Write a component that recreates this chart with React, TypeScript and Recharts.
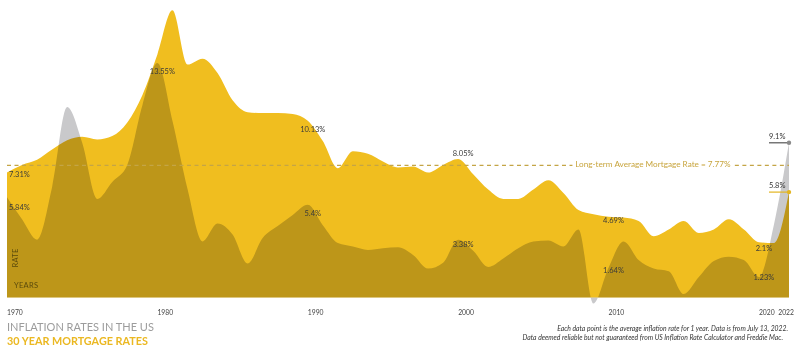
import React from "react";
import {
  ComposedChart,
  Area,
  XAxis,
  YAxis,
  ReferenceLine,
  ReferenceDot,
} from "recharts";

// yearly values
const years = [
  1970, 1971, 1972, 1973, 1974, 1975, 1976, 1977, 1978, 1979,
  1980, 1981, 1982, 1983, 1984, 1985, 1986, 1987, 1988, 1989,
  1990, 1991, 1992, 1993, 1994, 1995, 1996, 1997, 1998, 1999,
  2000, 2001, 2002, 2003, 2004, 2005, 2006, 2007, 2008, 2009,
  2010, 2011, 2012, 2013, 2014, 2015, 2016, 2017, 2018, 2019,
  2020, 2021, 2022,
];

const inflation = [
  5.9, 4.6, 3.4, 6.5, 11.2, 9.1, 5.8, 6.8, 7.8, 11.3,
  13.8, 10.4, 6.4, 3.3, 4.35, 3.7, 2.0, 3.5, 4.2, 4.85,
  5.45, 4.25, 3.2, 3.0, 2.8, 2.9, 2.95, 2.5, 1.7, 2.05,
  3.4, 2.75, 1.8, 2.3, 2.9, 3.3, 3.35, 3.0, 4.0, -0.35,
  1.75, 3.3, 2.2, 1.7, 1.55, 0.2, 1.2, 2.15, 2.4, 2.2,
  1.2, 4.3, 9.1,
];

const mortgage = [
  7.35, 7.8, 8.1, 8.7, 9.25, 9.45, 9.3, 9.5, 10.3, 11.9,
  14.3, 16.9, 13.7, 14.05, 13.2, 11.6, 10.9, 10.85, 10.85, 10.8,
  10.4, 9.2, 7.6, 8.6, 8.45, 8.0, 7.65, 7.7, 7.35, 7.8,
  8.15, 7.25, 6.35, 5.8, 5.8, 6.35, 6.9, 6.15, 5.15, 4.9,
  4.75, 4.7, 4.5, 3.6, 4.0, 4.5, 3.8, 4.0, 4.6, 4.0,
  3.25, 3.2, 6.2,
];

const tickYears = [1970, 1980, 1990, 2000, 2010, 2020, 2022];

const avgMortgage = 7.77;
const avgLabel = "Long-term Average Mortgage Rate = 7.77%";

// point annotations
const mortgageNoteYears = [1970, 1990, 2000, 2010, 2020];
const mortgageNoteValues = [7.31, 10.13, 8.05, 4.69, 2.1];
const mortgageNoteDy = [2, 5, -7, 3, -13];

const inflationNoteYears = [1970, 1980, 1990, 2000, 2010, 2020];
const inflationNoteValues = [5.84, 13.55, 5.4, 3.38, 1.64, 1.23];
const inflationNoteDy = [10, 5, 8, 5, 1.5, 2];

const endLabels = ["9.1%", "5.8%"];

const FONT = "Lato, 'Noto Sans', sans-serif";
const YELLOW = "#F0BE1F";
const GRAY = "#C9C9CB";
const GOLD_TEXT = "#C8A53E";

const data = years.map((year, i) => ({
  year,
  inflation: inflation[i],
  mortgage: mortgage[i],
}));

function YearTick(props: any) {
  const { x, y, payload } = props;
  const last = payload.value === 2022;
  return (
    <text
      x={last ? x + 5 : x}
      y={y}
      dy={1}
      textAnchor={last ? "end" : "start"}
      fontSize={6.8}
      fill="#444"
      fontFamily={FONT}
    >
      {payload.value}
    </text>
  );
}

const noteShape = (text: string, dy: number, first: boolean) => (p: any) =>
  (
    <text
      x={first ? p.cx + 2 : p.cx + 5}
      y={p.cy + dy}
      textAnchor={first ? "start" : "middle"}
      dominantBaseline="middle"
      fontSize={7.5}
      fill="#3a3a3a"
      fontFamily={FONT}
    >
      {text}
    </text>
  );

const endShape = (text: string, lineColor: string, dotColor: string) => (p: any) =>
  (
    <g>
      <line x1={p.cx - 20} x2={p.cx} y1={p.cy} y2={p.cy} stroke={lineColor} strokeWidth={1.2} />
      <circle cx={p.cx} cy={p.cy} r={2.2} fill={dotColor} />
      <text x={p.cx - 20} y={p.cy - 4} fontSize={7.5} fill="#333" fontFamily={FONT}>
        {text}
      </text>
    </g>
  );

const avgLabelShape = (p: any) => (
  <text
    x={p.cx}
    y={p.cy}
    textAnchor="middle"
    dominantBaseline="middle"
    fontSize={8.2}
    fill={GOLD_TEXT}
    fontFamily={FONT}
  >
    {avgLabel}
  </text>
);

export default function App() {
  const last = years.length - 1;
  return (
    <div style={{ position: "absolute", left: 0, top: 0, width: 800, height: 350, background: "#fff", fontFamily: FONT }}>
      <style>{`.infl-area { mix-blend-mode: multiply; }`}</style>
      <ComposedChart
        width={800}
        height={350}
        data={data}
        margin={{ top: 0, right: 11, left: 7, bottom: 24 }}
      >
        <XAxis
          dataKey="year"
          type="number"
          domain={[1970, 2022]}
          ticks={tickYears}
          axisLine={false}
          tickLine={false}
          height={20}
          tick={<YearTick />}
          interval={0}
        />
        <YAxis hide domain={[-0.5, 17.5]} />
        <Area
          dataKey="mortgage"
          type="monotone"
          fill={YELLOW}
          fillOpacity={1}
          stroke="none"
          isAnimationActive={false}
        />
        <Area
          className="infl-area"
          dataKey="inflation"
          type="monotone"
          fill={GRAY}
          fillOpacity={1}
          stroke="none"
          isAnimationActive={false}
        />
        <ReferenceLine
          segment={[
            { x: 1970, y: avgMortgage },
            { x: 2007.6, y: avgMortgage },
          ]}
          stroke="#C4A546"
          strokeWidth={1.4}
          strokeDasharray="4 3.5"
        />
        <ReferenceLine
          segment={[
            { x: 2018.4, y: avgMortgage },
            { x: 2022, y: avgMortgage },
          ]}
          stroke="#C4A546"
          strokeWidth={1.4}
          strokeDasharray="4 3.5"
        />
        <ReferenceDot x={2012.95} y={avgMortgage} r={0} shape={avgLabelShape} />
        {mortgageNoteYears.map((yr, i) => (
          <ReferenceDot
            key={`m-${yr}`}
            x={yr}
            y={mortgageNoteValues[i]}
            r={0}
            shape={noteShape(`${mortgageNoteValues[i]}%`, mortgageNoteDy[i], i === 0)}
          />
        ))}
        {inflationNoteYears.map((yr, i) => (
          <ReferenceDot
            key={`i-${yr}`}
            x={yr}
            y={inflationNoteValues[i]}
            r={0}
            shape={noteShape(`${inflationNoteValues[i]}%`, inflationNoteDy[i], i === 0)}
          />
        ))}
        <ReferenceDot
          x={years[last]}
          y={inflation[last]}
          r={0}
          shape={endShape(endLabels[0], "#555", "#8a8a8a")}
        />
        <ReferenceDot
          x={years[last]}
          y={mortgage[last]}
          r={0}
          shape={endShape(endLabels[1], "#E3B520", "#E3B520")}
        />
      </ComposedChart>

      <div style={{ position: "absolute", left: 8, top: 256, width: 14, fontSize: 7.5, color: "#5a4a0c", transform: "rotate(-90deg)", transformOrigin: "center", letterSpacing: 0.3 }}>
        RATE
      </div>
      <div style={{ position: "absolute", left: 14, top: 281, fontSize: 7.5, color: "#5a4a0c", letterSpacing: 0.3 }}>
        YEARS
      </div>

      <div style={{ position: "absolute", left: 7, top: 320, fontSize: 11, color: "#9c9c9c", lineHeight: "13px" }}>
        INFLATION RATES IN THE US
      </div>
      <div style={{ position: "absolute", left: 7, top: 334, fontSize: 10.8, color: "#EBB822", fontWeight: 700, lineHeight: "13px" }}>
        30 YEAR MORTGAGE RATES
      </div>

      <div style={{ position: "absolute", right: 12, top: 324, fontSize: 6.8, fontStyle: "italic", color: "#333", textAlign: "right", lineHeight: "9px" }}>
        <div>Each data point is the average inflation rate for 1 year. Data is from July 13, 2022.</div>
        <div style={{ marginRight: 5 }}>Data deemed reliable but not guaranteed from US Inflation Rate Calculator and Freddie Mac.</div>
      </div>
    </div>
  );
}
